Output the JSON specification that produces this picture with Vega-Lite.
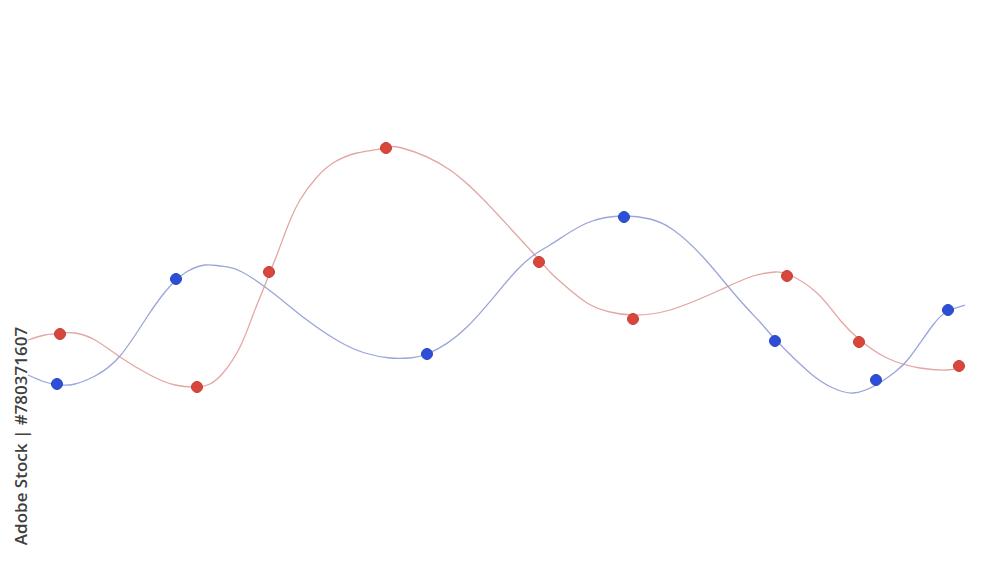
{
  "$schema": "https://vega.github.io/schema/vega-lite/v6.json",
  "width": 1000,
  "height": 563,
  "autosize": {"type": "fit", "contains": "padding"},
  "padding": 0,
  "background": "#ffffff",
  "config": {"view": {"stroke": null}},
  "datasets": {
    "curves": [
      {"series": "red", "x": 28, "y": 340}, {"series": "red", "x": 45, "y": 335}, {"series": "red", "x": 61, "y": 333},
      {"series": "red", "x": 75, "y": 333}, {"series": "red", "x": 95, "y": 340}, {"series": "red", "x": 120, "y": 357},
      {"series": "red", "x": 150, "y": 375}, {"series": "red", "x": 175, "y": 385}, {"series": "red", "x": 197, "y": 387},
      {"series": "red", "x": 210, "y": 384}, {"series": "red", "x": 223, "y": 373}, {"series": "red", "x": 240, "y": 347},
      {"series": "red", "x": 253, "y": 315}, {"series": "red", "x": 263, "y": 290}, {"series": "red", "x": 270, "y": 272},
      {"series": "red", "x": 278, "y": 252}, {"series": "red", "x": 287, "y": 228}, {"series": "red", "x": 300, "y": 200},
      {"series": "red", "x": 317, "y": 177}, {"series": "red", "x": 333, "y": 163}, {"series": "red", "x": 357, "y": 153},
      {"series": "red", "x": 386, "y": 148}, {"series": "red", "x": 402, "y": 148},
      {"series": "red", "x": 450, "y": 170}, {"series": "red", "x": 500, "y": 217}, {"series": "red", "x": 533, "y": 253},
      {"series": "red", "x": 550, "y": 272}, {"series": "red", "x": 563, "y": 284}, {"series": "red", "x": 587, "y": 303},
      {"series": "red", "x": 610, "y": 312}, {"series": "red", "x": 632, "y": 315}, {"series": "red", "x": 670, "y": 310},
      {"series": "red", "x": 720, "y": 290}, {"series": "red", "x": 753, "y": 276}, {"series": "red", "x": 775, "y": 272},
      {"series": "red", "x": 790, "y": 275}, {"series": "red", "x": 817, "y": 293}, {"series": "red", "x": 840, "y": 320},
      {"series": "red", "x": 860, "y": 340}, {"series": "red", "x": 887, "y": 358}, {"series": "red", "x": 920, "y": 368},
      {"series": "red", "x": 947, "y": 370}, {"series": "red", "x": 959, "y": 368},
      {"series": "blue", "x": 28, "y": 375}, {"series": "blue", "x": 45, "y": 382}, {"series": "blue", "x": 60, "y": 385},
      {"series": "blue", "x": 75, "y": 384}, {"series": "blue", "x": 95, "y": 376}, {"series": "blue", "x": 120, "y": 356},
      {"series": "blue", "x": 147, "y": 317}, {"series": "blue", "x": 165, "y": 292}, {"series": "blue", "x": 176, "y": 280},
      {"series": "blue", "x": 188, "y": 271}, {"series": "blue", "x": 205, "y": 265}, {"series": "blue", "x": 220, "y": 266},
      {"series": "blue", "x": 240, "y": 271}, {"series": "blue", "x": 273, "y": 293}, {"series": "blue", "x": 307, "y": 320},
      {"series": "blue", "x": 340, "y": 342}, {"series": "blue", "x": 365, "y": 353}, {"series": "blue", "x": 390, "y": 358},
      {"series": "blue", "x": 410, "y": 358}, {"series": "blue", "x": 427, "y": 354},
      {"series": "blue", "x": 467, "y": 327}, {"series": "blue", "x": 517, "y": 270}, {"series": "blue", "x": 550, "y": 245},
      {"series": "blue", "x": 587, "y": 223}, {"series": "blue", "x": 624, "y": 216}, {"series": "blue", "x": 650, "y": 219},
      {"series": "blue", "x": 672, "y": 229}, {"series": "blue", "x": 703, "y": 257}, {"series": "blue", "x": 737, "y": 297},
      {"series": "blue", "x": 760, "y": 322}, {"series": "blue", "x": 775, "y": 339}, {"series": "blue", "x": 810, "y": 373},
      {"series": "blue", "x": 833, "y": 388}, {"series": "blue", "x": 853, "y": 393}, {"series": "blue", "x": 876, "y": 385},
      {"series": "blue", "x": 895, "y": 372}, {"series": "blue", "x": 910, "y": 357}, {"series": "blue", "x": 933, "y": 325},
      {"series": "blue", "x": 948, "y": 311}, {"series": "blue", "x": 965, "y": 305}
    ],
    "points": [
      {"series": "red", "x": 60, "y": 334}, {"series": "red", "x": 197, "y": 387}, {"series": "red", "x": 269, "y": 272},
      {"series": "red", "x": 386, "y": 148}, {"series": "red", "x": 539, "y": 262}, {"series": "red", "x": 633, "y": 319},
      {"series": "red", "x": 787, "y": 276}, {"series": "red", "x": 859, "y": 342}, {"series": "red", "x": 959, "y": 366},
      {"series": "blue", "x": 57, "y": 384}, {"series": "blue", "x": 176, "y": 279}, {"series": "blue", "x": 427, "y": 354},
      {"series": "blue", "x": 624, "y": 217}, {"series": "blue", "x": 775, "y": 341}, {"series": "blue", "x": 876, "y": 380},
      {"series": "blue", "x": 948, "y": 310}
    ],
    "labels": [
      {"x": 22, "y": 436, "text": "Adobe Stock | #780371607"}
    ]
  },
  "layer": [
    {
      "data": {"name": "curves"},
      "mark": {"type": "line", "interpolate": "natural", "strokeWidth": 1.3},
      "encoding": {
        "x": {"field": "x", "type": "quantitative", "scale": {"domain": [0, 1000], "nice": false, "zero": false}, "axis": null},
        "y": {"field": "y", "type": "quantitative", "scale": {"domain": [0, 563], "nice": false, "zero": false, "reverse": true}, "axis": null},
        "color": {"field": "series", "type": "nominal", "scale": {"domain": ["red", "blue"], "range": ["#e3a6a3", "#9aa5da"]}, "legend": null},
        "order": {"field": "x", "type": "quantitative"}
      }
    },
    {
      "data": {"name": "points"},
      "mark": {"type": "circle", "size": 120, "opacity": 1, "strokeWidth": 1},
      "encoding": {
        "x": {"field": "x", "type": "quantitative"},
        "y": {"field": "y", "type": "quantitative"},
        "fill": {"field": "series", "type": "nominal", "scale": {"domain": ["red", "blue"], "range": ["#d9463b", "#2b4fd8"]}, "legend": null},
        "stroke": {"field": "series", "type": "nominal", "scale": {"domain": ["red", "blue"], "range": ["#c23a30", "#2443c0"]}, "legend": null}
      }
    },
    {
      "data": {"name": "labels"},
      "mark": {"type": "text", "angle": 270, "font": "Open Sans", "fontSize": 17, "fontWeight": 600, "color": "#404040", "align": "center", "baseline": "middle"},
      "encoding": {
        "x": {"field": "x", "type": "quantitative"},
        "y": {"field": "y", "type": "quantitative"},
        "text": {"field": "text"}
      }
    }
  ]
}
